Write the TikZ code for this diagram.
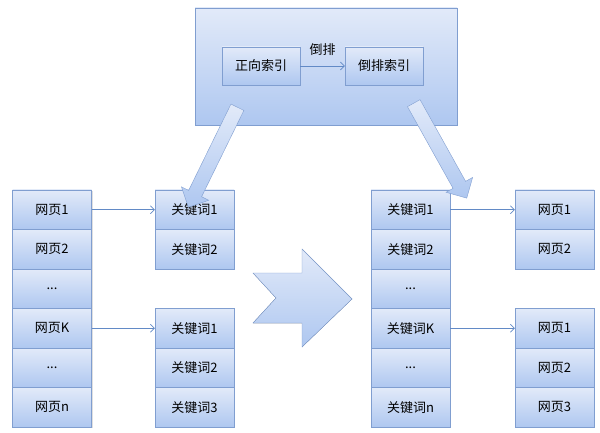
\documentclass[tikz,border=0pt]{standalone}
\usepackage{fontspec}
\setmainfont{Noto Sans CJK SC}
\usetikzlibrary{shapes.arrows,shadows,arrows.meta,calc}

\definecolor{boxtop}{RGB}{226,234,249}
\definecolor{boxbot}{RGB}{174,199,240}
\definecolor{boxline}{RGB}{128,158,208}
\definecolor{linkblue}{RGB}{98,138,198}

\newcommand{\skiprow}{...}
\newcommand{\fatlink}[3]{%
  \path let \p1=($(#2)-(#1)$), \n1={atan2(\y1,\x1)}, \n2={veclen(\x1,\y1)} in
    node[fatarrow, rotate=\n1, minimum height=\n2] (#3) at ($(#1)!0.5!(#2)$) {};}

\begin{document}
\begin{tikzpicture}[x=1pt,y=-1pt,
  cell/.style={draw=boxline, top color=boxtop, bottom color=boxbot,
    minimum width=79pt, minimum height=39.5pt, inner sep=0pt,
    font=\fontsize{13}{15}\selectfont,
    drop shadow={shadow xshift=1pt, shadow yshift=-1pt, opacity=0.25}},
  link/.style={draw=linkblue, line width=0.7pt, -{Straight Barb[length=4pt,width=8pt]}},
  fatarrow/.style={single arrow, draw=boxline, top color=boxtop, bottom color=boxbot,
    single arrow head extend=8pt, inner xsep=0pt, inner ysep=7pt}]

\useasboundingbox (0,0) rectangle (600,433);

% index panel:
\node[cell, minimum width=262pt, minimum height=117pt] (panel) at (326,66.5) {};
\node[cell, minimum width=78pt, minimum height=38pt] (fwd) at (261,66) {正向索引};
\node[cell, minimum width=78pt, minimum height=38pt] (inv) at (384,66) {倒排索引};
\draw[link] (fwd) -- node[above=7pt, font=\fontsize{13}{15}\selectfont] (lbl) {倒排} (inv);

% forward index:
\foreach \t [count=\i] in {网页1,网页2,\skiprow,网页K,\skiprow,网页n}
  \node[cell] (pg\i) at (52,{190+39.5*(\i-0.5)}) {\t};
\foreach \t [count=\i] in {关键词1,关键词2}
  \node[cell] (fk\i) at (194.5,{190+39.5*(\i-0.5)}) {\t};
\foreach \t [count=\i] in {关键词1,关键词2,关键词3}
  \node[cell] (fkk\i) at (194.5,{308.5+39.5*(\i-0.5)}) {\t};
\draw[link] (pg1.east) -- (fk1.west);
\draw[link] (pg4.east) -- (fkk1.west);

% inverted index:
\foreach \t [count=\i] in {关键词1,关键词2,\skiprow,关键词K,\skiprow,关键词n}
  \node[cell] (ik\i) at (410.5,{190+39.5*(\i-0.5)}) {\t};
\foreach \t [count=\i] in {网页1,网页2}
  \node[cell] (ip\i) at (554.5,{190+39.5*(\i-0.5)}) {\t};
\foreach \t [count=\i] in {网页1,网页2,网页3}
  \node[cell] (ipk\i) at (554.5,{308.5+39.5*(\i-0.5)}) {\t};
\draw[link] (ik1.east) -- (ip1.west);
\draw[link] (ik4.east) -- (ipk1.west);

% big arrow:
\filldraw[draw=boxline, top color=boxtop, bottom color=boxbot]
  (253,273) -- (302,273) -- (302,249) -- (352,299) -- (302,347)
  -- (302,323) -- (253,323) -- (276,298) -- cycle;

% arrows out of the panel:
\coordinate (la0) at (239,104);
\coordinate (la1) at (190,204);
\coordinate (ra0) at (412,100);
\coordinate (ra1) at (465,195);
\fatlink{la0}{la1}{fwdarrow}
\fatlink{ra0}{ra1}{invarrow}

\end{tikzpicture}
\end{document}
